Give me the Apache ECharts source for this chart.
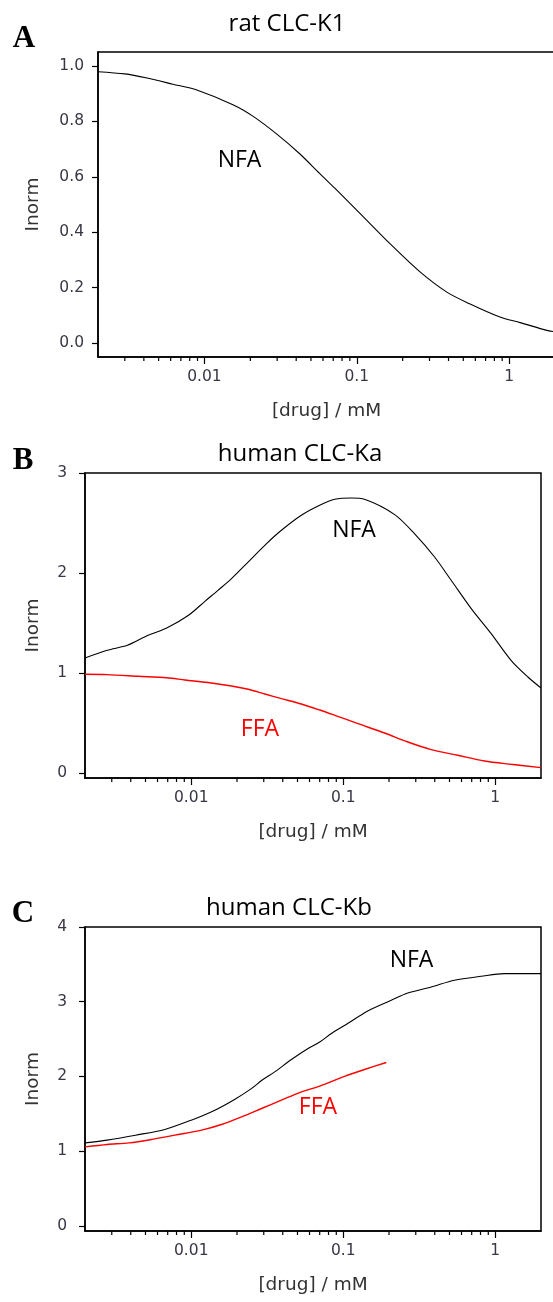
<!DOCTYPE html>
<html>
<head>
<meta charset="utf-8">
<script src="https://cdn.jsdelivr.net/npm/echarts@6/dist/echarts.min.js"></script>
<style>
html,body{margin:0;padding:0;background:#fff;}
#chart{width:553px;height:1302px;}
</style>
</head>
<body>
<div id="chart"></div>
<script>
// ---- Data ----
// Panel A: rat CLC-K1, NFA
var xA_NFA = [0.002, 0.003, 0.0042, 0.0062, 0.0089, 0.0155, 0.021, 0.03, 0.042, 0.057, 0.072, 0.108, 0.165, 0.26, 0.39, 0.55, 0.87, 1.18, 1.77, 2];
var yA_NFA = [0.979, 0.971, 0.956, 0.934, 0.913, 0.859, 0.817, 0.753, 0.684, 0.612, 0.558, 0.461, 0.359, 0.257, 0.184, 0.142, 0.094, 0.074, 0.046, 0.041];
// Panel B: human CLC-Ka
var xB_NFA = [0.002, 0.0028, 0.0038, 0.0052, 0.0069, 0.0096, 0.0123, 0.015, 0.0184, 0.0243, 0.0313, 0.0392, 0.053, 0.07, 0.088, 0.113, 0.138, 0.218, 0.294, 0.399, 0.513, 0.695, 0.94, 1.27, 1.64, 2];
var yB_NFA = [1.15, 1.227, 1.277, 1.377, 1.45, 1.577, 1.717, 1.827, 1.944, 2.127, 2.294, 2.427, 2.577, 2.677, 2.737, 2.75, 2.737, 2.584, 2.394, 2.16, 1.927, 1.644, 1.394, 1.127, 0.96, 0.85];
var xB_FFA = [0.002, 0.0028, 0.0045, 0.0069, 0.0091, 0.0129, 0.0184, 0.0237, 0.0305, 0.0392, 0.053, 0.07, 0.088, 0.125, 0.187, 0.266, 0.379, 0.567, 0.849, 1.27, 2];
var yB_FFA = [0.987, 0.984, 0.967, 0.952, 0.93, 0.905, 0.87, 0.837, 0.79, 0.744, 0.69, 0.63, 0.577, 0.494, 0.40, 0.31, 0.234, 0.177, 0.12, 0.087, 0.054];
// Panel C: human CLC-Kb
var xC_NFA = [0.002, 0.0028, 0.0043, 0.0067, 0.01, 0.0143, 0.0194, 0.025, 0.029, 0.0354, 0.0456, 0.0587, 0.07, 0.0836, 0.107, 0.145, 0.207, 0.266, 0.379, 0.539, 0.807, 1.15, 2];
var yC_NFA = [1.11, 1.147, 1.213, 1.29, 1.414, 1.548, 1.695, 1.84, 1.944, 2.06, 2.226, 2.373, 2.46, 2.574, 2.708, 2.876, 3.019, 3.117, 3.197, 3.287, 3.34, 3.376, 3.376];
var xC_FFA = [0.002, 0.0028, 0.0039, 0.0055, 0.0078, 0.0117, 0.0158, 0.0214, 0.029, 0.0392, 0.0531, 0.07, 0.102, 0.138, 0.192];
var yC_FFA = [1.057, 1.089, 1.11, 1.156, 1.213, 1.28, 1.356, 1.458, 1.57, 1.682, 1.793, 1.87, 2.0, 2.092, 2.186];

// Tick values
var xMinorTicks = [0.003, 0.004, 0.005, 0.006, 0.007, 0.008, 0.009,
                   0.02, 0.03, 0.04, 0.05, 0.06, 0.07, 0.08, 0.09,
                   0.2, 0.3, 0.4, 0.5, 0.6, 0.7, 0.8, 0.9];
var yTicksA = [0, 0.2, 0.4, 0.6, 0.8, 1.0];
var yTicksB = [0, 1, 2, 3];
var yTicksC = [0, 1, 2, 3, 4];
var panelTitles = ['rat CLC-K1', 'human CLC-Ka', 'human CLC-Kb'];
var panelLetters = ['A', 'B', 'C'];
var xTitle = '[drug] / mM';
var yTitle = 'Inorm';

// ---- Layout ----
var grids = [
  {left: 98, top: 52, width: 457, height: 305},
  {left: 85, top: 473, width: 456, height: 305},
  {left: 85, top: 927, width: 456, height: 304}
];
var yRanges = [[-0.05, 1.05], [-0.05, 3], [-0.07, 4]];
var yTicks = [yTicksA, yTicksB, yTicksC];
var yLabelMargin = [14, 18, 18];
var yNameGap = [55, 42, 42];

var labelColor = '#3b3545';
var tickFont = 'DejaVu Sans';

function pairs(xs, ys) { return xs.map(function (x, i) { return [x, ys[i]]; }); }

var xAxes = [], yAxes = [], series = [];
grids.forEach(function (g, i) {
  g.show = true; g.borderColor = '#000'; g.borderWidth = 1.5;
  g.outerBoundsMode = 'none'; g.containLabel = false;
  xAxes.push({
    type: 'log', logBase: 10, gridIndex: i, min: 0.002, max: 2,
    axisLine: {show: true, onZero: false, lineStyle: {color: '#000', width: 1.5}},
    axisTick: {show: true, length: 7, lineStyle: {color: '#000', width: 1.2}},
    minorTick: {show: false},
    splitLine: {show: false},
    axisLabel: {
      showMinLabel: false, showMaxLabel: false, margin: 12,
      fontFamily: tickFont, fontSize: 15.5, color: labelColor,
      formatter: function (v) { return String(+(+v).toPrecision(3)); }
    },
    name: xTitle, nameLocation: 'middle', nameGap: 45,
    nameTextStyle: {fontFamily: tickFont, fontSize: 18.5, color: '#333'}
  });
  var yr = yRanges[i];
  yAxes.push({
    type: 'value', gridIndex: i, min: yr[0], max: yr[1],
    axisLine: {show: true, onZero: false, lineStyle: {color: '#000', width: 1.5}},
    axisTick: {show: true, length: 6, customValues: yTicks[i], lineStyle: {color: '#000', width: 1.2}},
    splitLine: {show: false},
    axisLabel: {
      customValues: yTicks[i], margin: yLabelMargin[i],
      fontFamily: tickFont, fontSize: 15.5, color: labelColor,
      formatter: i === 0 ? function (v) { return (+v).toFixed(1); } : function (v) { return String(Math.round(v)); }
    },
    name: yTitle, nameLocation: 'middle', nameGap: yNameGap[i], nameRotate: 90,
    nameTextStyle: {fontFamily: tickFont, fontSize: 18.5, color: '#333'}
  });
  // minor x ticks drawn through the axis scale
  series.push({
    type: 'custom', xAxisIndex: i, yAxisIndex: i, silent: true, clip: false,
    data: xMinorTicks.map(function (v) { return [v, yr[0]]; }),
    renderItem: function (params, api) {
      var p = api.coord([api.value(0), api.value(1)]);
      return {type: 'line', shape: {x1: p[0], y1: p[1], x2: p[0], y2: p[1] + 4},
              style: {stroke: '#000', lineWidth: 1.2}};
    },
    z: 5
  });
});

function lineSeries(idx, xs, ys, color, width) {
  return {
    type: 'line', xAxisIndex: idx, yAxisIndex: idx, data: pairs(xs, ys),
    showSymbol: false, symbol: 'none', smooth: 0.3, silent: true,
    lineStyle: {color: color, width: width}, z: 3
  };
}
series.push(lineSeries(0, xA_NFA, yA_NFA, '#000', 1.1));
series.push(lineSeries(1, xB_NFA, yB_NFA, '#000', 1.1));
series.push(lineSeries(1, xB_FFA, yB_FFA, '#ff0000', 1.4));
series.push(lineSeries(2, xC_NFA, yC_NFA, '#000', 1.1));
series.push(lineSeries(2, xC_FFA, yC_FFA, '#ff0000', 1.4));

// ---- Text annotations ----
function txt(s, x, y, font, fill) {
  return {type: 'text', silent: true, z: 10,
    style: {text: s, x: x, y: y, align: 'center', verticalAlign: 'middle', font: font, fill: fill}};
}
var titleFont = '24px "Open Sans"';
var letterFont = 'bold 31px "Liberation Serif"';
var curveFont = '23px "Open Sans"';
var graphics = [
  txt(panelLetters[0], 24, 39, letterFont, '#000'),
  txt(panelLetters[1], 23, 461, letterFont, '#000'),
  txt(panelLetters[2], 23, 914, letterFont, '#000'),
  txt(panelTitles[0], 287, 24, titleFont, '#000'),
  txt(panelTitles[1], 300, 454, titleFont, '#000'),
  txt(panelTitles[2], 289, 908, titleFont, '#000'),
  txt('NFA', 239.5, 160, curveFont, '#000'),
  txt('NFA', 354, 530, curveFont, '#000'),
  txt('FFA', 260, 729, curveFont, '#ff0000'),
  txt('NFA', 411.5, 960, curveFont, '#000'),
  txt('FFA', 318, 1107, curveFont, '#ff0000')
];

var chart = echarts.init(document.getElementById('chart'), null, {renderer: 'canvas'});
chart.setOption({
  backgroundColor: '#fff',
  animation: false,
  grid: grids,
  xAxis: xAxes,
  yAxis: yAxes,
  series: series,
  graphic: graphics
});
</script>
</body>
</html>
